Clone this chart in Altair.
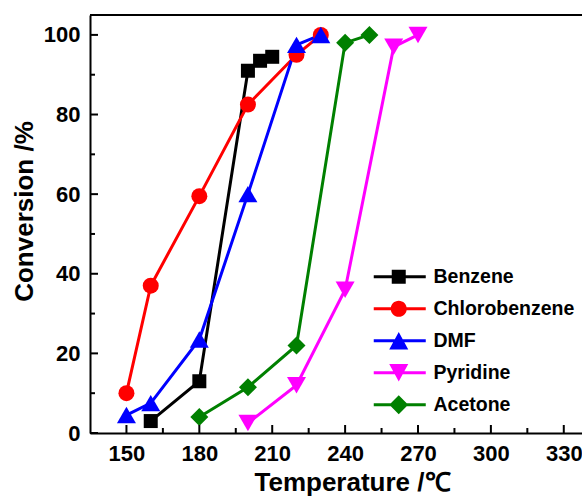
import altair as alt
import pandas as pd

# Catalytic conversion of VOCs versus reaction temperature
series_names = ["Benzene", "Chlorobenzene", "DMF", "Pyridine", "Acetone"]
series_colors = ["#000000", "#ff0000", "#0000ff", "#ff00ff", "#008000"]

benzene_t = [160, 180, 200, 205, 210]
benzene_c = [3, 13, 91, 93.5, 94.5]

chlorobenzene_t = [150, 160, 180, 200, 220, 230]
chlorobenzene_c = [10, 37, 59.5, 82.5, 95, 100]

dmf_t = [150, 160, 180, 200, 220, 230]
dmf_c = [4.5, 7.5, 23.5, 60, 97.5, 100]

pyridine_t = [200, 220, 240, 260, 270]
pyridine_c = [2.5, 12, 36, 97, 100]

acetone_t = [180, 200, 220, 240, 250]
acetone_c = [4, 11.5, 22, 98, 100]

x_major_ticks = [150, 180, 210, 240, 270, 300, 330]
x_minor_ticks = [165, 195, 225, 255, 285, 315]
y_major_ticks = [0, 20, 40, 60, 80, 100]
y_minor_ticks = [10, 30, 50, 70, 90]

FONT = "Liberation Sans"
W, H = 492, 418

temps = [benzene_t, chlorobenzene_t, dmf_t, pyridine_t, acetone_t]
convs = [benzene_c, chlorobenzene_c, dmf_c, pyridine_c, acetone_c]
rows = []
for name, ts, cs in zip(series_names, temps, convs):
    for t, c in zip(ts, cs):
        rows.append({"series": name, "temp": t, "conv": c})
df = pd.DataFrame(rows)

x_scale = alt.Scale(domain=[135, 337.5], nice=False, zero=False)
y_scale = alt.Scale(domain=[0, 105], nice=False, zero=False)
color_scale = alt.Scale(domain=series_names, range=series_colors)

x_axis = alt.Axis(
    values=x_major_ticks, ticks=False, grid=False, labelFlush=False, labelOverlap=False,
    domainColor="black", domainWidth=2, labelFont=FONT, labelFontSize=22,
    labelFontWeight="bold", labelColor="black", labelPadding=10,
    title="Temperature /℃", titleFont=FONT, titleFontSize=26, titleFontWeight="bold",
    titleColor="black", titleX=262, titleY=57, titleAlign="center",
    titleBaseline="alphabetic",
)
y_axis = alt.Axis(
    values=y_major_ticks, ticks=False, grid=False, labelFlush=False, labelOverlap=False,
    domainColor="black", domainWidth=2, labelFont=FONT, labelFontSize=22,
    labelFontWeight="bold", labelColor="black", labelPadding=10,
    title="Conversion /%", titleFont=FONT, titleFontSize=26, titleFontWeight="bold",
    titleColor="black", titleX=-66, titleY=196, titleAngle=270, titleAlign="center",
    titleBaseline="middle",
)

X = alt.X("temp:Q", scale=x_scale, axis=x_axis)
Y = alt.Y("conv:Q", scale=y_scale, axis=y_axis)

base = alt.Chart(df)

marker_shapes = ["square", "circle", "triangle-up", "triangle-down", "diamond"]
marker_sizes = [196, 256, 361, 361, 324]

line_layers = []
point_layers = []
for name, col, shp, sz in zip(series_names, series_colors, marker_shapes, marker_sizes):
    sub = base.transform_filter(alt.datum.series == name)
    line_layers.append(sub.mark_line(color=col, strokeWidth=3).encode(x=X, y=Y))
    point_layers.append(
        sub.mark_point(shape=shp, size=sz, filled=True, opacity=1, strokeWidth=0, color=col)
        .encode(x=X, y=Y)
    )

# legend glyphs: a line segment through the marker, as one filled path
cx = 2.571
seg = f"M-1,-0.2H{cx - 0.5:.3f}V0.2H-1Z M{cx + 0.5:.3f},-0.2H6.43V0.2H{cx + 0.5:.3f}Z "
legend_paths = [
    seg + f"M{cx - 1:.3f},-1H{cx + 1:.3f}V1H{cx - 1:.3f}Z",
    seg + f"M{cx - 1.15:.3f},0A1.15,1.15 0 1,1 {cx + 1.15:.3f},0A1.15,1.15 0 1,1 {cx - 1.15:.3f},0Z",
    seg + f"M{cx:.3f},-1.25L{cx + 1.36:.3f},1.25L{cx - 1.36:.3f},1.25Z",
    seg + f"M{cx - 1.36:.3f},-1.25L{cx + 1.36:.3f},-1.25L{cx:.3f},1.25Z",
    seg + f"M{cx:.3f},-1.35L{cx + 1.35:.3f},0L{cx:.3f},1.35L{cx - 1.35:.3f},0Z",
]
legend_def = alt.Legend(
    title=None, orient="none", legendX=281, legendY=252, padding=0,
    labelFont=FONT, labelFontSize=19.5, labelFontWeight="bold", labelColor="black",
    labelOffset=43, symbolSize=196, symbolStrokeWidth=0, symbolOpacity=1,
    rowPadding=11, labelLimit=300,
)
legend_layer = (
    base.transform_filter("false")
    .mark_point(filled=True, opacity=1)
    .encode(
        x=X, y=Y,
        color=alt.Color("series:N", scale=color_scale, legend=legend_def),
        shape=alt.Shape("series:N", scale=alt.Scale(domain=series_names, range=legend_paths),
                        legend=legend_def),
    )
)

# inward tick marks and the top frame line
tick_df_x_major = pd.DataFrame({"temp": x_major_ticks})
tick_df_x_minor = pd.DataFrame({"temp": x_minor_ticks})
tick_df_y_major = pd.DataFrame({"conv": y_major_ticks})
tick_df_y_minor = pd.DataFrame({"conv": y_minor_ticks})

def x_ticks(data, length):
    return alt.Chart(data).mark_rule(color="black", strokeWidth=2).encode(
        x=X, y=alt.value(H), y2=alt.value(H - length),
    )

def y_ticks(data, length):
    return alt.Chart(data).mark_rule(color="black", strokeWidth=2).encode(
        y=Y, x=alt.value(0), x2=alt.value(length),
    )

top_line = alt.Chart(tick_df_x_major).mark_rule(color="black", strokeWidth=2).encode(
    x=alt.value(0), x2=alt.value(W), y=alt.value(0)
)

chart = alt.layer(
    *line_layers, *point_layers, legend_layer,
    x_ticks(tick_df_x_major, 8), x_ticks(tick_df_x_minor, 5),
    y_ticks(tick_df_y_major, 8), y_ticks(tick_df_y_minor, 5),
    top_line,
).properties(
    width=W, height=H,
    autosize=alt.AutoSizeParams(type="none"),
    padding={"left": 90, "top": 15, "right": 0, "bottom": 66},
    background="white",
).configure_view(stroke=None)

chart.save("out.html", embed_options={"renderer": "svg", "actions": False})
